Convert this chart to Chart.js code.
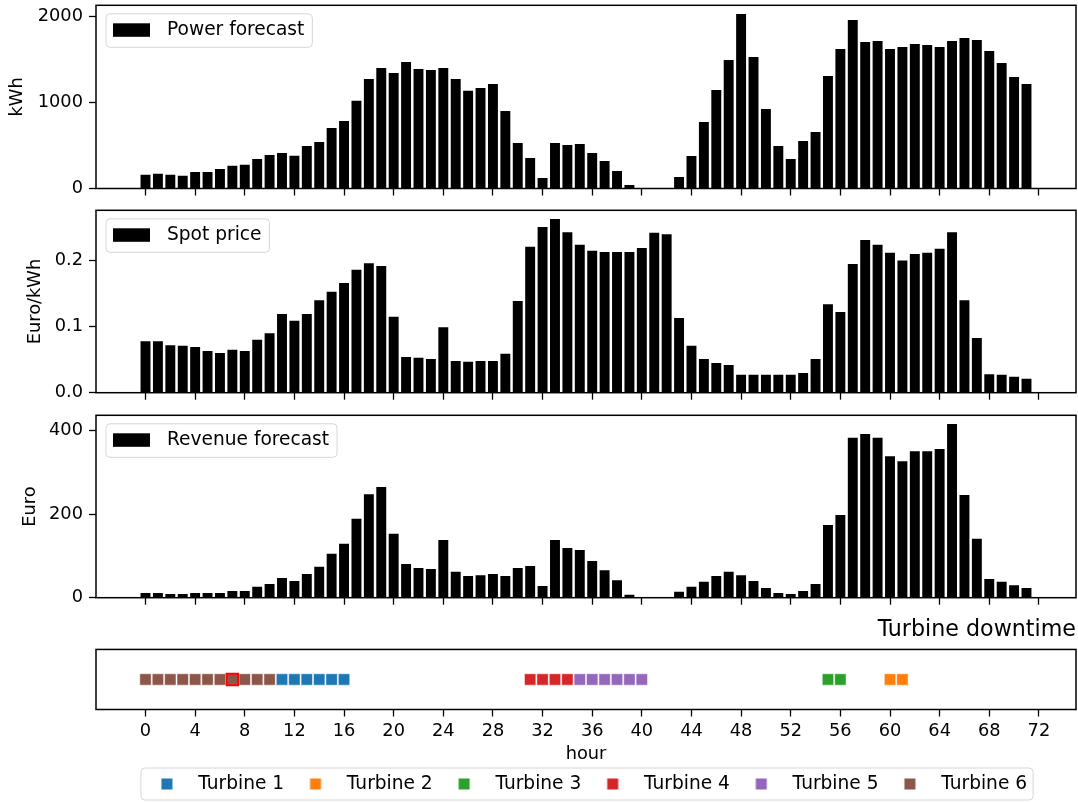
<!DOCTYPE html>
<html><head><meta charset="utf-8">
<script src="https://cdn.jsdelivr.net/npm/chart.js@4.4.1/dist/chart.umd.min.js"></script>
<style>
html,body{margin:0;padding:0;background:#fff;}
#wrap{position:relative;width:1078px;height:802px;overflow:hidden;background:#fff;}
canvas{position:absolute;left:0;}
</style></head><body>
<div id="wrap">
<canvas id="c1" width="1078" height="200" style="top:0px"></canvas>
<canvas id="c2" width="1078" height="205" style="top:200px"></canvas>
<canvas id="c3" width="1078" height="205" style="top:405px"></canvas>
<canvas id="c4" width="1078" height="192" style="top:610px"></canvas>
</div>
<script>
// ---------- data ----------
const hours = [0,1,2,3,4,5,6,7,8,9,10,11,12,13,14,15,16,17,18,19,20,21,22,23,
  24,25,26,27,28,29,30,31,32,33,34,35,36,37,38,39,40,41,42,43,44,45,46,47,
  48,49,50,51,52,53,54,55,56,57,58,59,60,61,62,63,64,65,66,67,68,69,70,71];

const powerForecast = [160,172,160,149,191,191,226,265,276,342,
  389,412,381,493,539,702,783,1019,1270,1398,
  1340,1468,1387,1375,1398,1270,1135,1166,1212,899,
  528,354,122,528,505,516,412,319,203,41,
  0,0,0,133,377,771,1143,1491,2024,1525,
  922,493,342,551,655,1305,1618,1955,1700,1711,
  1618,1641,1676,1665,1641,1711,1746,1723,1595,1456,
  1294,1212];

const spotPrice = [0.078,0.078,0.072,0.071,0.069,0.063,0.060,0.065,0.063,0.080,
  0.090,0.119,0.109,0.119,0.140,0.153,0.166,0.186,0.196,0.192,
  0.115,0.054,0.053,0.051,0.099,0.048,0.047,0.048,0.048,0.059,
  0.139,0.221,0.251,0.263,0.243,0.224,0.215,0.213,0.213,0.213,
  0.219,0.242,0.240,0.113,0.071,0.051,0.045,0.042,0.027,0.027,
  0.027,0.027,0.027,0.030,0.051,0.134,0.122,0.195,0.231,0.224,
  0.212,0.200,0.210,0.212,0.218,0.243,0.140,0.083,0.028,0.027,
  0.024,0.021];

const revenueForecast = [11,11,9,9,11,11,11,16,16,26,
  33,47,40,57,74,105,129,189,248,265,
  153,81,71,69,138,62,52,54,57,52,
  71,76,28,138,119,114,88,66,42,7,
  0,0,0,14,26,38,52,62,54,40,
  23,11,9,16,33,174,198,383,392,383,
  339,327,351,351,356,416,246,141,45,38,
  30,23];

const hourTicks = [0,4,8,12,16,20,24,28,32,36,40,44,48,52,56,60,64,68,72];
const powerTicks = [0,1000,2000];
const priceTicks = [0,0.1,0.2];
const revenueTicks = [0,200,400];

const turbineNames = ['Turbine 1','Turbine 2','Turbine 3','Turbine 4','Turbine 5','Turbine 6'];
const turbineColors = ['#1f77b4','#ff7f0e','#2ca02c','#d62728','#9467bd','#8c564b'];
const turbine1Hours = [11,12,13,14,15,16];
const turbine2Hours = [60,61];
const turbine3Hours = [55,56];
const turbine4Hours = [31,32,33,34];
const turbine5Hours = [35,36,37,38,39,40];
const turbine6Hours = [0,1,2,3,4,5,6,7,8,9,10];
const turbineHours = [turbine1Hours,turbine2Hours,turbine3Hours,turbine4Hours,turbine5Hours,turbine6Hours];
const highlightHour = 7;   // selected downtime hour (Turbine 6)

// ---------- styling ----------
const X_MIN = -3.99, X_MAX = 74.99;
const FONT = 'DejaVu Sans';
const LEGEND_SIZE = 18.6;
Chart.defaults.font.family = FONT;
Chart.defaults.font.size = 17.8;
Chart.defaults.color = '#000';
Chart.defaults.animation = false;

const tickGrid = {display:true, drawOnChartArea:false, drawTicks:true, tickLength:7, tickWidth:1.3, tickColor:'#000', color:'#000', offset:false};
function noPad(s){ s.paddingTop = 0; s.paddingBottom = 0; s.paddingLeft = 0; s.paddingRight = 0; }

const framePlugin = {
  id:'frame',
  afterDraw(chart){
    const {ctx, chartArea:a} = chart;
    ctx.save(); ctx.strokeStyle = '#000'; ctx.lineWidth = 1.5;
    ctx.strokeRect(a.left, a.top, a.right - a.left, a.bottom - a.top);
    ctx.restore();
  }
};

function roundRect(ctx, x, y, w, h, r){
  ctx.beginPath();
  ctx.moveTo(x + r, y); ctx.lineTo(x + w - r, y); ctx.quadraticCurveTo(x + w, y, x + w, y + r);
  ctx.lineTo(x + w, y + h - r); ctx.quadraticCurveTo(x + w, y + h, x + w - r, y + h);
  ctx.lineTo(x + r, y + h); ctx.quadraticCurveTo(x, y + h, x, y + h - r);
  ctx.lineTo(x, y + r); ctx.quadraticCurveTo(x, y, x + r, y); ctx.closePath();
}

const innerLegendPlugin = {
  id:'innerLegend',
  afterDatasetsDraw(chart){
    const {ctx, chartArea:a} = chart;
    const ds = chart.data.datasets[0];
    ctx.save();
    ctx.font = LEGEND_SIZE + 'px "' + FONT + '"';
    const tw = ctx.measureText(ds.label).width;
    const fx = a.left + 10, fy = a.top + 8.5, fw = 69 + tw, fh = 33.5;
    roundRect(ctx, fx, fy, fw, fh, 4);
    ctx.fillStyle = 'rgba(255,255,255,0.8)'; ctx.fill();
    ctx.strokeStyle = '#d6d6d6'; ctx.lineWidth = 1; ctx.stroke();
    ctx.fillStyle = ds.backgroundColor;
    ctx.fillRect(a.left + 17, a.top + 18, 37, 13.5);
    ctx.fillStyle = '#000'; ctx.textBaseline = 'middle'; ctx.textAlign = 'left';
    ctx.fillText(ds.label, a.left + 71, a.top + 25);
    ctx.restore();
  }
};

function barChart(id, label, values, o){
  return new Chart(document.getElementById(id), {
    type:'bar',
    data:{datasets:[{label, data:hours.map((h,i)=>({x:h, y:values[i]})),
      backgroundColor:'#000', borderWidth:0, barPercentage:0.8, categoryPercentage:1.0}]},
    options:{
      responsive:false, devicePixelRatio:1, animation:false,
      layout:{autoPadding:false, padding:{top:o.padTop, right:2, left:0, bottom:0}},
      plugins:{legend:{display:false}, tooltip:{enabled:false}},
      scales:{
        x:{type:'linear', min:X_MIN, max:X_MAX, offset:false, grid:tickGrid, border:{display:false},
           ticks:{display:false},
           afterBuildTicks:s=>{ s.ticks = hourTicks.map(v=>({value:v})); },
           afterFit:s=>{ s.height = o.xAxisHeight; noPad(s); }},
        y:{type:'linear', min:0, max:Math.max(...values)*1.05, grid:tickGrid, border:{display:false},
           ticks:{padding:6, callback:o.fmt},
           afterBuildTicks:s=>{ s.ticks = o.yTicks.map(v=>({value:v})); },
           afterFit:s=>{ s.width = 96; noPad(s); },
           title:{display:true, text:o.yTitle, padding:{top:o.titlePad, bottom:0}}}
      }
    },
    plugins:[innerLegendPlugin, framePlugin]
  });
}

barChart('c1', 'Power forecast', powerForecast,
  {padTop:5.3, xAxisHeight:11.5, yTicks:powerTicks, yTitle:'kWh', titlePad:7, fmt:v=>String(v)});
barChart('c2', 'Spot price', spotPrice,
  {padTop:10.3, xAxisHeight:12.3, yTicks:priceTicks, yTitle:'Euro/kWh', titlePad:25, fmt:v=>v.toFixed(1)});
barChart('c3', 'Revenue forecast', revenueForecast,
  {padTop:10.3, xAxisHeight:12.3, yTicks:revenueTicks, yTitle:'Euro', titlePad:19.5, fmt:v=>String(v)});

// ---------- turbine downtime ----------
function swatch(color, w, h, sq){
  const c = document.createElement('canvas'); c.width = w; c.height = h;
  const g = c.getContext('2d'); g.fillStyle = color;
  g.fillRect((w - sq) / 2, (h - sq) / 2, sq, sq);
  return c;
}

const legendFramePlugin = {
  id:'legendFrame',
  beforeDraw(chart){
    const lg = chart.legend; if (!lg || !lg.legendHitBoxes || !lg.legendHitBoxes.length) return;
    const hb = lg.legendHitBoxes;
    const l = Math.min(...hb.map(b=>b.left)) - 4;
    const r = Math.max(...hb.map(b=>b.left + b.width)) + 6;
    const cy = hb[0].top + hb[0].height / 2;
    const t = cy - 16, b = cy + 16;
    const ctx = chart.ctx; ctx.save();
    roundRect(ctx, l, t, r - l, b - t, 4);
    ctx.fillStyle = 'rgba(255,255,255,0.8)'; ctx.fill();
    ctx.strokeStyle = '#d6d6d6'; ctx.lineWidth = 1; ctx.stroke();
    ctx.restore();
  }
};

const downtimeSets = turbineNames.map((n, i) => ({
  label:n, data:turbineHours[i].map(h=>({x:h, y:0})),
  backgroundColor:turbineColors[i], borderColor:'rgba(255,255,255,0.7)',
  pointBackgroundColor:turbineColors[i], pointBorderColor:'rgba(255,255,255,0.7)',
  pointBorderWidth:0.8, pointStyle:'rect', pointRadius:8.1, pointHoverRadius:8.1, showLine:false
}));
downtimeSets.push({
  label:'selected', data:[{x:highlightHour, y:0}], order:-1,
  backgroundColor:'rgba(0,0,0,0)', borderColor:'#ff0000',
  pointBackgroundColor:'rgba(0,0,0,0)', pointBorderColor:'#ff0000',
  pointBorderWidth:2, pointStyle:'rect', pointRadius:8.1, pointHoverRadius:8.1, showLine:false
});

new Chart(document.getElementById('c4'), {
  type:'scatter',
  data:{datasets:downtimeSets},
  options:{
    responsive:false, devicePixelRatio:1, animation:false,
    layout:{autoPadding:false, padding:{top:0, left:96, right:2, bottom:-1.3}},
    plugins:{
      tooltip:{enabled:false},
      title:{display:true, text:'Turbine downtime', align:'end', color:'#000',
        font:{size:22.2, weight:'normal'}, padding:{top:6.9, bottom:5.9}},
      legend:{display:true, position:'bottom',
        labels:{usePointStyle:true, pointStyleWidth:44, padding:9.4, color:'#000', font:{size:LEGEND_SIZE},
          filter:item=>item.datasetIndex < turbineNames.length,
          generateLabels(chart){
            const items = Chart.defaults.plugins.legend.labels.generateLabels(chart);
            return items.map(it=>Object.assign(it, {pointStyle:swatch(turbineColors[it.datasetIndex] || '#000', 44, 12, 11), lineWidth:0}));
          }}}
    },
    scales:{
      x:{type:'linear', min:X_MIN, max:X_MAX, offset:false, grid:tickGrid, border:{display:false},
         ticks:{padding:3.8, maxRotation:0, autoSkip:false},
         afterBuildTicks:s=>{ s.ticks = hourTicks.map(v=>({value:v})); },
         afterFit:s=>{ s.height = 55.8; noPad(s); },
         title:{display:true, text:'hour', padding:{top:0, bottom:0}}},
      y:{type:'linear', min:-1, max:1, display:false}
    }
  },
  plugins:[legendFramePlugin, framePlugin]
});
</script>
</body></html>
